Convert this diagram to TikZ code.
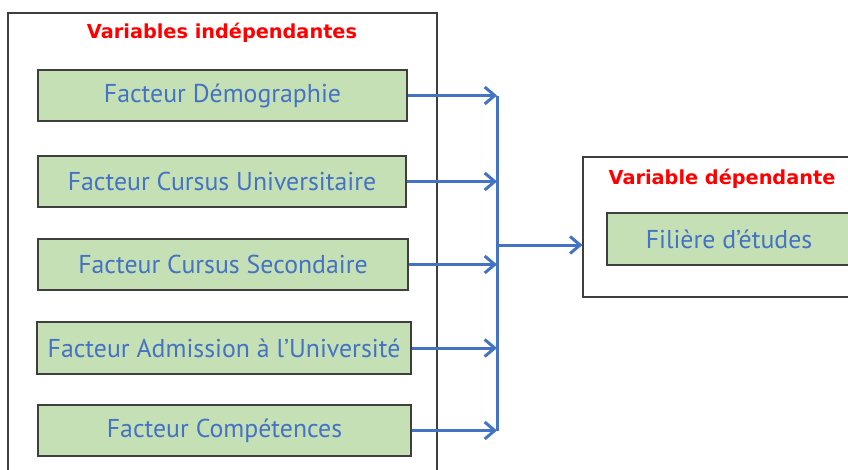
\documentclass[tikz,border=0pt]{standalone}
\usepackage{fontspec}
\setmainfont{PT Sans}
\newfontfamily\titrefont{DejaVu Sans}
\usetikzlibrary{arrows.meta}
\pgfdeclarelayer{edgelayer}
\pgfdeclarelayer{nodelayer}
\pgfsetlayers{edgelayer,nodelayer,main}
\definecolor{facgreen}{HTML}{C5E0B4}
\definecolor{facblue}{HTML}{4472C4}
\definecolor{framegray}{HTML}{3F3F3F}
\tikzset{font=\fontsize{25.8}{28}\selectfont}
\tikzstyle{none}=[inner sep=0pt]
\tikzstyle{frame}=[draw=framegray,line width=1.2pt,inner sep=0pt]
\tikzstyle{facteur}=[draw=framegray,line width=1.2pt,fill=facgreen,text=facblue,inner sep=0pt,minimum height=51pt]
\tikzstyle{titre}=[text=red,font=\titrefont\fontsize{19.3}{22}\selectfont\bfseries,inner sep=0pt]
\tikzstyle{fleche}=[draw=facblue,line width=3pt,-{Straight Barb[length=10pt,width=17pt]}]

\begin{document}
\begin{tikzpicture}[x=1pt,y=-1pt]
	\clip (0,0) rectangle (848,469);
	\begin{pgfonlayer}{nodelayer}
		\node [style=titre] (1) at (222, 33) {Variables indépendantes};
		\node [style=facteur, minimum width=369pt] (2) at (222.5, 95.5) {Facteur Démographie};
		\node [style=facteur, minimum width=368pt] (3) at (222, 181.5) {Facteur Cursus Universitaire};
		\node [style=facteur, minimum width=370pt] (4) at (223, 264.5) {Facteur Cursus Secondaire};
		\node [style=facteur, minimum width=374pt, minimum height=52pt] (5) at (224, 348) {Facteur Admission à l’Université};
		\node [style=facteur, minimum width=373pt] (6) at (224.5, 430.5) {Facteur Compétences};
		\node [style=titre] (8) at (722, 179) {Variable dépendante};
		\node [style=facteur, minimum width=244pt, minimum height=52pt] (9) at (729, 239) {Filière d’études};
		\node [style=none] (10) at (497, 245) {};
	\end{pgfonlayer}
	\begin{pgfonlayer}{edgelayer}
		\node [style=frame, minimum width=429pt, minimum height=480pt] (0) at (222.5, 253) {};
		\node [style=frame, minimum width=290pt, minimum height=140pt] (7) at (728, 227) {};
		\draw[draw=facblue, line width=3pt] (2.east -| 10.center) to (6.east -| 10.center);
		\draw[style=fleche] (2.east) to (2.east -| 10.center);
		\draw[style=fleche] (3.east) to (3.east -| 10.center);
		\draw[style=fleche] (4.east) to (4.east -| 10.center);
		\draw[style=fleche] (5.east) to (5.east -| 10.center);
		\draw[style=fleche] (6.east) to (6.east -| 10.center);
		\draw[style=fleche] (10.center) to (10.center -| 7.west);
	\end{pgfonlayer}
\end{tikzpicture}
\end{document}
